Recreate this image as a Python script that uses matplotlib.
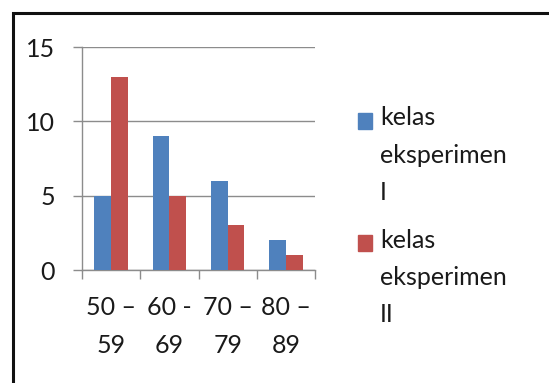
"""Grouped bar chart: score distribution for two experimental classes."""
import matplotlib
matplotlib.use("Agg")
import matplotlib.pyplot as plt
import numpy as np
from matplotlib.patches import Rectangle

categories = ["50 –\n59", "60 -\n69", "70 –\n79", "80 –\n89"]
series_names = ["kelas\neksperimen\nI", "kelas\neksperimen\nII"]
kelas_1 = [5, 9, 6, 2]
kelas_2 = [13, 5, 3, 1]
y_ticks = [0, 5, 10, 15]

BLUE = "#4F81BD"
RED = "#C0504D"
GRID = "#8C8C8C"
TEXT = "#1a1a1a"

plt.rcParams["font.family"] = ["Lato", "DejaVu Sans"]
plt.rcParams["font.size"] = 18

fig = plt.figure(figsize=(5.49, 3.83), dpi=100)
ax = fig.add_axes([0.1494, 0.295, 0.4244, 0.582])

x = np.arange(len(categories))
w = 0.286
ax.bar(x - w / 2, kelas_1, w, color=BLUE, zorder=3)
ax.bar(x + w / 2, kelas_2, w, color=RED, zorder=3)

ax.set_xlim(-0.5, len(categories) - 0.5)
ax.set_ylim(0, 15)
ax.set_yticks(y_ticks)
ax.yaxis.grid(True, color=GRID, linewidth=1.0, zorder=0)

ax.set_xticks(x)
ax.set_xticklabels(categories, linespacing=1.75, color=TEXT)
ax.set_xticks(np.arange(-0.5, len(categories)), minor=True)
ax.tick_params(axis="x", which="major", length=0, pad=19)
ax.tick_params(axis="x", which="minor", length=6.5, width=1, color=GRID,
               direction="out")
ax.tick_params(axis="y", length=6.5, width=1, color=GRID, pad=13,
               labelcolor=TEXT)

for side in ("top", "right"):
    ax.spines[side].set_visible(False)
for side in ("left", "bottom"):
    ax.spines[side].set_color(GRID)
    ax.spines[side].set_linewidth(1.0)

# legend drawn by hand so the swatch sits on the first text line;
# (swatch bottom, baseline of last label line, colour)
legend_rows = [(0.663, 0.478, BLUE), (0.3446, 0.159, RED)]
for name, (ysw, ytxt, col) in zip(series_names, legend_rows):
    fig.add_artist(Rectangle((0.652, ysw), 0.0255, 0.042,
                             transform=fig.transFigure, color=col))
    fig.text(0.692, ytxt, name, va="baseline", ha="left", color=TEXT,
             linespacing=1.75)

# outer frame, open off the right and bottom edges
fig.add_artist(Rectangle((12.5 / 549, -0.1), 1.2, 1.1 - 12.5 / 383,
                         transform=fig.transFigure, fill=False,
                         edgecolor="#111111", linewidth=2.2))

fig.savefig("out.png", dpi=100)
